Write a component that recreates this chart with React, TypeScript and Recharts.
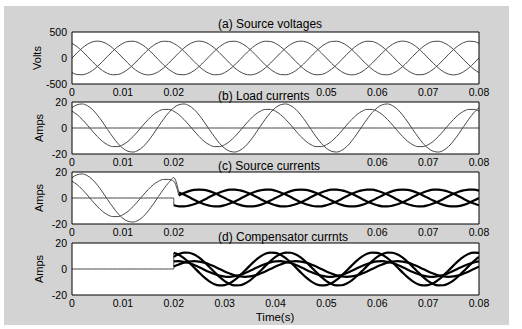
import React from "react";
import { LineChart, Line, XAxis, YAxis, CartesianGrid } from "recharts";

// sample times (s), 1 ms apart
const time = [
  0, 0.001, 0.002, 0.003, 0.004, 0.005, 0.006, 0.007, 0.008, 0.009,
  0.01, 0.011, 0.012, 0.013, 0.014, 0.015, 0.016, 0.017, 0.018, 0.019,
  0.02, 0.021, 0.022, 0.023, 0.024, 0.025, 0.026, 0.027, 0.028, 0.029,
  0.03, 0.031, 0.032, 0.033, 0.034, 0.035, 0.036, 0.037, 0.038, 0.039,
  0.04, 0.041, 0.042, 0.043, 0.044, 0.045, 0.046, 0.047, 0.048, 0.049,
  0.05, 0.051, 0.052, 0.053, 0.054, 0.055, 0.056, 0.057, 0.058, 0.059,
  0.06, 0.061, 0.062, 0.063, 0.064, 0.065, 0.066, 0.067, 0.068, 0.069,
  0.07, 0.071, 0.072, 0.073, 0.074, 0.075, 0.076, 0.077, 0.078, 0.079,
  0.08,
];

// (a) source voltages, V
const srcVa = [
  0, 100, 191, 263, 309, 325, 309, 263, 191, 100, 0, -100, -191, -263, -309, -325, -309, -263, -191, -100,
  0, 100, 191, 263, 309, 325, 309, 263, 191, 100, 0, -100, -191, -263, -309, -325, -309, -263, -191, -100,
  0, 100, 191, 263, 309, 325, 309, 263, 191, 100, 0, -100, -191, -263, -309, -325, -309, -263, -191, -100,
  0, 100, 191, 263, 309, 325, 309, 263, 191, 100, 0, -100, -191, -263, -309, -325, -309, -263, -191, -100,
  0,
];
const srcVb = [
  -281, -318, -323, -297, -242, -163, -68, 34, 132, 217, 281, 318, 323, 297, 242, 163, 68, -34, -132, -217,
  -281, -318, -323, -297, -242, -163, -68, 34, 132, 217, 281, 318, 323, 297, 242, 163, 68, -34, -132, -217,
  -281, -318, -323, -297, -242, -163, -68, 34, 132, 217, 281, 318, 323, 297, 242, 163, 68, -34, -132, -217,
  -281, -318, -323, -297, -242, -163, -68, 34, 132, 217, 281, 318, 323, 297, 242, 163, 68, -34, -132, -217,
  -281,
];
const srcVc = [
  281, 217, 132, 34, -68, -163, -242, -297, -323, -318, -281, -217, -132, -34, 68, 163, 242, 297, 323, 318,
  281, 217, 132, 34, -68, -163, -242, -297, -323, -318, -281, -217, -132, -34, 68, 163, 242, 297, 323, 318,
  281, 217, 132, 34, -68, -163, -242, -297, -323, -318, -281, -217, -132, -34, 68, 163, 242, 297, 323, 318,
  281, 217, 132, 34, -68, -163, -242, -297, -323, -318, -281, -217, -132, -34, 68, 163, 242, 297, 323, 318,
  281,
];

// (b) load currents, A
const loadIa = [
  15.6, 17.9, 18.5, 17.2, 14.3, 9.9, 4.6, -1.2, -6.8, -11.8, -15.6, -17.9, -18.5, -17.2, -14.3, -9.9, -4.6, 1.2, 6.8, 11.8,
  15.6, 17.9, 18.5, 17.2, 14.3, 9.9, 4.6, -1.2, -6.8, -11.8, -15.6, -17.9, -18.5, -17.2, -14.3, -9.9, -4.6, 1.2, 6.8, 11.8,
  15.6, 17.9, 18.5, 17.2, 14.3, 9.9, 4.6, -1.2, -6.8, -11.8, -15.6, -17.9, -18.5, -17.2, -14.3, -9.9, -4.6, 1.2, 6.8, 11.8,
  15.6, 17.9, 18.5, 17.2, 14.3, 9.9, 4.6, -1.2, -6.8, -11.8, -15.6, -17.9, -18.5, -17.2, -14.3, -9.9, -4.6, 1.2, 6.8, 11.8,
  15.6,
];
const loadIb = [
  12.9, 10.3, 6.6, 2.3, -2.3, -6.6, -10.3, -12.9, -14.3, -14.3, -12.9, -10.3, -6.6, -2.3, 2.3, 6.6, 10.3, 12.9, 14.3, 14.3,
  12.9, 10.3, 6.6, 2.3, -2.3, -6.6, -10.3, -12.9, -14.3, -14.3, -12.9, -10.3, -6.6, -2.3, 2.3, 6.6, 10.3, 12.9, 14.3, 14.3,
  12.9, 10.3, 6.6, 2.3, -2.3, -6.6, -10.3, -12.9, -14.3, -14.3, -12.9, -10.3, -6.6, -2.3, 2.3, 6.6, 10.3, 12.9, 14.3, 14.3,
  12.9, 10.3, 6.6, 2.3, -2.3, -6.6, -10.3, -12.9, -14.3, -14.3, -12.9, -10.3, -6.6, -2.3, 2.3, 6.6, 10.3, 12.9, 14.3, 14.3,
  12.9,
];
const loadIc = [
  0, 0, 0, 0, 0, 0, 0, 0, 0, 0, 0, 0, 0, 0, 0, 0, 0, 0, 0, 0,
  0, 0, 0, 0, 0, 0, 0, 0, 0, 0, 0, 0, 0, 0, 0, 0, 0, 0, 0, 0,
  0, 0, 0, 0, 0, 0, 0, 0, 0, 0, 0, 0, 0, 0, 0, 0, 0, 0, 0, 0,
  0, 0, 0, 0, 0, 0, 0, 0, 0, 0, 0, 0, 0, 0, 0, 0, 0, 0, 0, 0,
  0,
];

// compensation switched on at 0.02 s; values below run from 0.02 to 0.08
const switchIndex = 20;

// (c) source currents after switch-on, A
const srcOnA = [
  5.6, 4.3, 2.6, 0.7, -1.4, -3.3, -4.8, -5.9, -6.5, -6.4, -5.6, -4.3, -2.6, -0.7, 1.4, 3.3, 4.8, 5.9, 6.5, 6.4,
  5.6, 4.3, 2.6, 0.7, -1.4, -3.3, -4.8, -5.9, -6.5, -6.4, -5.6, -4.3, -2.6, -0.7, 1.4, 3.3, 4.8, 5.9, 6.5, 6.4,
  5.6, 4.3, 2.6, 0.7, -1.4, -3.3, -4.8, -5.9, -6.5, -6.4, -5.6, -4.3, -2.6, -0.7, 1.4, 3.3, 4.8, 5.9, 6.5, 6.4,
  5.6,
];
const srcOnB = [
  0, 2.0, 3.8, 5.3, 6.2, 6.5, 6.2, 5.3, 3.8, 2.0, 0, -2.0, -3.8, -5.3, -6.2, -6.5, -6.2, -5.3, -3.8, -2.0,
  0, 2.0, 3.8, 5.3, 6.2, 6.5, 6.2, 5.3, 3.8, 2.0, 0, -2.0, -3.8, -5.3, -6.2, -6.5, -6.2, -5.3, -3.8, -2.0,
  0, 2.0, 3.8, 5.3, 6.2, 6.5, 6.2, 5.3, 3.8, 2.0, 0, -2.0, -3.8, -5.3, -6.2, -6.5, -6.2, -5.3, -3.8, -2.0,
  0,
];
const srcOnC = [
  -5.6, -6.4, -6.5, -5.9, -4.8, -3.3, -1.4, 0.7, 2.6, 4.3, 5.6, 6.4, 6.5, 5.9, 4.8, 3.3, 1.4, -0.7, -2.6, -4.3,
  -5.6, -6.4, -6.5, -5.9, -4.8, -3.3, -1.4, 0.7, 2.6, 4.3, 5.6, 6.4, 6.5, 5.9, 4.8, 3.3, 1.4, -0.7, -2.6, -4.3,
  -5.6, -6.4, -6.5, -5.9, -4.8, -3.3, -1.4, 0.7, 2.6, 4.3, 5.6, 6.4, 6.5, 5.9, 4.8, 3.3, 1.4, -0.7, -2.6, -4.3,
  -5.6,
];

// (d) compensator currents after switch-on, A
const compOnA = [
  9.3, 11.5, 12.6, 12.5, 11.1, 8.7, 5.4, 1.6, -2.4, -6.1, -9.3, -11.5, -12.6, -12.5, -11.1, -8.7, -5.4, -1.6, 2.4, 6.1,
  9.3, 11.5, 12.6, 12.5, 11.1, 8.7, 5.4, 1.6, -2.4, -6.1, -9.3, -11.5, -12.6, -12.5, -11.1, -8.7, -5.4, -1.6, 2.4, 6.1,
  9.3, 11.5, 12.6, 12.5, 11.1, 8.7, 5.4, 1.6, -2.4, -6.1, -9.3, -11.5, -12.6, -12.5, -11.1, -8.7, -5.4, -1.6, 2.4, 6.1,
  9.3,
];
const compOnB = [
  12.4, 10.9, 8.4, 5.0, 1.2, -2.8, -6.5, -9.5, -11.7, -12.6, -12.4, -10.9, -8.4, -5.0, -1.2, 2.8, 6.5, 9.5, 11.7, 12.6,
  12.4, 10.9, 8.4, 5.0, 1.2, -2.8, -6.5, -9.5, -11.7, -12.6, -12.4, -10.9, -8.4, -5.0, -1.2, 2.8, 6.5, 9.5, 11.7, 12.6,
  12.4, 10.9, 8.4, 5.0, 1.2, -2.8, -6.5, -9.5, -11.7, -12.6, -12.4, -10.9, -8.4, -5.0, -1.2, 2.8, 6.5, 9.5, 11.7, 12.6,
  12.4,
];
const compOnC = [
  5.8, 6.0, 5.5, 4.6, 3.1, 1.4, -0.5, -2.3, -3.9, -5.1, -5.8, -6.0, -5.5, -4.6, -3.1, -1.4, 0.5, 2.3, 3.9, 5.1,
  5.8, 6.0, 5.5, 4.6, 3.1, 1.4, -0.5, -2.3, -3.9, -5.1, -5.8, -6.0, -5.5, -4.6, -3.1, -1.4, 0.5, 2.3, 3.9, 5.1,
  5.8, 6.0, 5.5, 4.6, 3.1, 1.4, -0.5, -2.3, -3.9, -5.1, -5.8, -6.0, -5.5, -4.6, -3.1, -1.4, 0.5, 2.3, 3.9, 5.1,
  5.8,
];
const compOnD = [
  1.9, 3.5, 4.9, 5.7, 6.0, 5.7, 4.9, 3.5, 1.9, 0, -1.9, -3.5, -4.9, -5.7, -6.0, -5.7, -4.9, -3.5, -1.9, 0,
  1.9, 3.5, 4.9, 5.7, 6.0, 5.7, 4.9, 3.5, 1.9, 0, -1.9, -3.5, -4.9, -5.7, -6.0, -5.7, -4.9, -3.5, -1.9, 0,
  1.9, 3.5, 4.9, 5.7, 6.0, 5.7, 4.9, 3.5, 1.9, 0, -1.9, -3.5, -4.9, -5.7, -6.0, -5.7, -4.9, -3.5, -1.9, 0,
  1.9,
];

const xTicks = [0, 0.01, 0.02, 0.03, 0.04, 0.05, 0.06, 0.07, 0.08];
// some labels are hidden under the next subplot's title
const xLabelsA = ["0", "0.01", "0.02", "", "", "0.05", "0.06", "0.07", "0.08"];
const xLabelsB = ["0", "0.01", "0.02", "", "", "", "0.06", "0.07", "0.08"];
const xLabelsC = ["0", "0.01", "0.02", "", "", "", "0.06", "0.07", "0.08"];
const xLabelsD = ["0", "0.01", "0.02", "0.03", "0.04", "0.05", "0.06", "0.07", "0.08"];

const voltTicks = [-500, 0, 500];
const ampTicks = [-20, 0, 20];

const titles = [
  "(a) Source voltages",
  "(b) Load currents",
  "(c) Source currents",
  "(d) Compensator currnts",
];

const tOn = time.slice(switchIndex);
const pts = (ts: number[], vs: number[]) => ts.map((t, i) => ({ t, v: vs[i] }));
const before = (vs: number[]) => pts(time.slice(0, switchIndex + 1), vs.slice(0, switchIndex + 1));

const THIN = "#484848";
const FONT = "'Liberation Sans', Arial, Helvetica, sans-serif";

type PanelProps = {
  top: number;
  domain: [number, number];
  yTicks: number[];
  xLabels: string[];
  children: React.ReactNode;
};

function Panel({ top, domain, yTicks, xLabels, children }: PanelProps) {
  const tickStyle = { fill: "#000", fontSize: 10.5 };
  return (
    <div style={{ position: "absolute", left: 0, top: top - 12 }}>
      <LineChart width={522} height={84} margin={{ top: 12, right: 43, bottom: 0, left: 0 }}>
        <CartesianGrid fill="#fff" horizontal={false} vertical={false} />
        <XAxis
          dataKey="t"
          type="number"
          domain={[0, 0.08]}
          allowDataOverflow
          ticks={xTicks}
          interval={0}
          height={20}
          tickSize={0}
          tickMargin={5}
          tickLine={false}
          axisLine={{ stroke: "#000" }}
          tick={tickStyle}
          tickFormatter={(v: number) => xLabels[xTicks.indexOf(v)] ?? ""}
        />
        <XAxis xAxisId="bt" dataKey="t" type="number" domain={[0, 0.08]} allowDataOverflow ticks={xTicks} interval={0}
          orientation="bottom" mirror tick={false} tickSize={3} axisLine={false} tickLine={{ stroke: "#000" }} />
        <XAxis xAxisId="tp" dataKey="t" type="number" domain={[0, 0.08]} allowDataOverflow ticks={xTicks} interval={0}
          orientation="top" mirror tick={false} tickSize={3} axisLine={{ stroke: "#000" }} tickLine={{ stroke: "#000" }} />
        <YAxis
          type="number"
          domain={domain}
          allowDataOverflow
          ticks={yTicks}
          interval={0}
          width={72}
          tickSize={0}
          tickMargin={5}
          tickLine={false}
          axisLine={{ stroke: "#000" }}
          tick={tickStyle}
        />
        <YAxis yAxisId="lt" type="number" domain={domain} allowDataOverflow ticks={yTicks} interval={0}
          orientation="left" mirror tick={false} tickSize={3} axisLine={false} tickLine={{ stroke: "#000" }} />
        <YAxis yAxisId="rt" type="number" domain={domain} allowDataOverflow ticks={yTicks} interval={0}
          orientation="right" mirror tick={false} tickSize={3} axisLine={{ stroke: "#000" }} tickLine={{ stroke: "#000" }} />
        {children}
      </LineChart>
    </div>
  );
}

function series(key: string, data: { t: number; v: number }[], thick: boolean) {
  return (
    <Line
      key={key}
      data={data}
      dataKey="v"
      type="monotone"
      dot={false}
      activeDot={false}
      stroke={thick ? "#000" : THIN}
      strokeWidth={thick ? 2.2 : 1}
      isAnimationActive={false}
    />
  );
}

const panelTops = [32, 102, 172, 243];
const titleY = [24, 96, 166, 237];
const yLabelX = [37, 39, 39, 39];

export default function App() {
  return (
    <div style={{ position: "absolute", left: 0, top: 0, width: 522, height: 329, background: "#fff", fontFamily: FONT, color: "#000" }}>
      <div style={{ position: "absolute", left: 4, top: 6, width: 505, height: 319, background: "#d3d3d3" }} />

      <Panel top={panelTops[0]} domain={[-500, 500]} yTicks={voltTicks} xLabels={xLabelsA}>
        {series("va", pts(time, srcVa), false)}
        {series("vb", pts(time, srcVb), false)}
        {series("vc", pts(time, srcVc), false)}
      </Panel>

      <Panel top={panelTops[1]} domain={[-20, 20]} yTicks={ampTicks} xLabels={xLabelsB}>
        {series("lc", pts(time, loadIc), false)}
        {series("la", pts(time, loadIa), false)}
        {series("lb", pts(time, loadIb), false)}
      </Panel>

      <Panel top={panelTops[2]} domain={[-20, 20]} yTicks={ampTicks} xLabels={xLabelsC}>
        {series("sa0", [...before(loadIa), { t: tOn[1], v: srcOnA[1] }], false)}
        {series("sb0", [...before(loadIb), { t: tOn[1], v: srcOnB[1] }], false)}
        {series("sc0", [...before(loadIc), { t: tOn[0], v: srcOnC[0] }], false)}
        {series("sa", pts(tOn.slice(1), srcOnA.slice(1)), true)}
        {series("sb", pts(tOn.slice(1), srcOnB.slice(1)), true)}
        {series("sc", pts(tOn, srcOnC), true)}
      </Panel>

      <Panel top={panelTops[3]} domain={[-20, 20]} yTicks={ampTicks} xLabels={xLabelsD}>
        {series("c0", [...before(loadIc), { t: tOn[0], v: compOnB[0] }], false)}
        {series("ca", pts(tOn, compOnA), true)}
        {series("cb", pts(tOn, compOnB), true)}
        {series("cc", pts(tOn, compOnC), true)}
        {series("cd", pts(tOn, compOnD), true)}
      </Panel>

      {titles.map((t, i) => (
        <div key={t} style={{ position: "absolute", left: 218, top: titleY[i] - 7, fontSize: 12, lineHeight: "14px", whiteSpace: "nowrap" }}>
          {t}
        </div>
      ))}

      {["Volts", "Amps", "Amps", "Amps"].map((t, i) => (
        <div
          key={i}
          style={{
            position: "absolute",
            left: yLabelX[i],
            top: panelTops[i] + 26,
            fontSize: 11,
            lineHeight: "12px",
            whiteSpace: "nowrap",
            transform: "translate(-50%, -50%) rotate(-90deg)",
          }}
        >
          {t}
        </div>
      ))}

      <div style={{ position: "absolute", left: 275, top: 317, fontSize: 11.5, lineHeight: "13px", transform: "translate(-50%, -50%)", whiteSpace: "nowrap" }}>
        Time(s)
      </div>
    </div>
  );
}
